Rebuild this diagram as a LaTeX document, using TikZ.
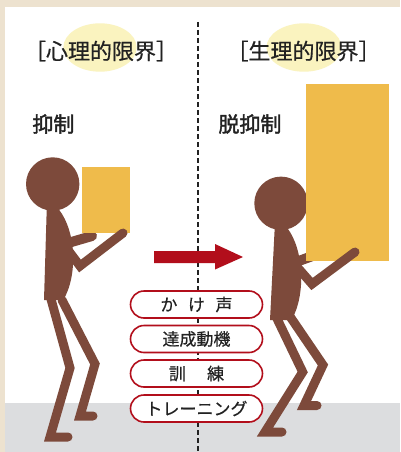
\documentclass[tikz,border=0pt]{standalone}
\usepackage{fontspec}
\setmainfont{Noto Sans CJK JP}
\newfontfamily\headfont[FakeBold=0.6]{Noto Sans CJK JP}
\newfontfamily\capfont[FakeBold=1.8]{Noto Sans CJK JP}
\newfontfamily\pillfont[FakeBold=0.4]{Noto Sans CJK JP}
\definecolor{paper}{HTML}{EDE2CF}
\definecolor{floorgray}{HTML}{DCDDDF}
\definecolor{halo}{HTML}{FAF3BF}
\definecolor{load}{HTML}{EFBB4B}
\definecolor{skin}{HTML}{7D4A3B}
\definecolor{signal}{HTML}{B20E1B}
\definecolor{ink}{HTML}{222222}
\tikzset{
  limb/.style={draw=skin, line width=9pt, line cap=round, line join=miter},
  farlimb/.style={draw=skin, line width=10pt, line cap=round},
  title/.style={font=\headfont\fontsize{22}{24}\selectfont, text=ink, inner sep=0pt},
  caption/.style={font=\capfont\fontsize{21}{23}\selectfont, text=ink, inner sep=0pt},
  pill/.style={draw=signal, line width=1.6pt, fill=white, rounded corners=13.5pt,
    minimum width=132pt, minimum height=27pt, inner sep=0pt,
    font=\pillfont\fontsize{17}{19}\selectfont, text=ink},
}
\begin{document}
\begin{tikzpicture}[x=1pt,y=-1pt]
\useasboundingbox (0,0) rectangle (400,452);
% paper, panel and floor
\fill[paper] (0,0) rectangle (400,452);
\fill[white] (5,7) rectangle (400,452);
\fill[floorgray] (5,403) rectangle (400,452);

% divider
\coordinate (dtop) at (198,22);
\coordinate (dbot) at (198,452);
\draw[ink, line width=1.4pt, dash pattern=on 5pt off 3pt] (dtop) -- (dbot);

% headings
\fill[halo] (100,47.5) ellipse [x radius=36.7pt, y radius=24.2pt];
\fill[halo] (304,47.5) ellipse [x radius=37.5pt, y radius=24.2pt];
\node[title] (t1) at (101,51) {［心理的限界］};
\node[title] (t2) at (303.5,51) {［生理的限界］};
\node[caption] (c1) at (53.5,124) {抑制};
\node[caption] (c2) at (250,124) {脱抑制};

% left figure
\draw[farlimb] (68,243) -- (92,236);
\fill[load] (82,167) rectangle (130,233);
\fill[skin] (46.7,210) -- (44,300) -- (63.3,300)
  .. controls (78,275) and (76,232) .. (59.3,210) -- cycle;
\fill[skin] (52.7,184) circle (26.7pt);
\draw[limb] (50.7,298) -- (70,368) -- (50,437) -- (68,437);
\draw[limb] (62,300) -- (95,364) -- (80,416) -- (93,416);
\draw[limb] (68,250) -- (80,266) -- (123,233);

% right figure
\draw[farlimb] (296,262) -- (318,254);
\fill[skin] (274.7,228) -- (270,320) -- (291.5,320)
  .. controls (306,295) and (304,250) .. (287.3,228) -- cycle;
\fill[skin] (281,203.3) circle (26.7pt);
\fill[load] (306,84) rectangle (389,261);
\draw[limb] (276.7,318) -- (302.7,372) -- (265,432) -- (282,432);
\draw[limb] (289,315) -- (323,365) -- (304,405.5) -- (317,405.5);
\draw[limb] (298,268) -- (312,284) -- (355,252);

% arrow
\fill[signal] (154,251) -- (215,251) -- (215,244) -- (243,257)
  -- (215,269.5) -- (215,263) -- (154,263) -- cycle;

% factors
\node[pill] (p1) at (196.5,304.5) {か\hspace{0.62em}け\hspace{0.62em}声};
\node[pill] (p2) at (196.5,339) {達成動機};
\node[pill] (p3) at (196.5,373.5) {訓\hspace{1.25em}練};
\node[pill] (p4) at (196.5,408.5) {トレーニング};
\end{tikzpicture}
\end{document}
